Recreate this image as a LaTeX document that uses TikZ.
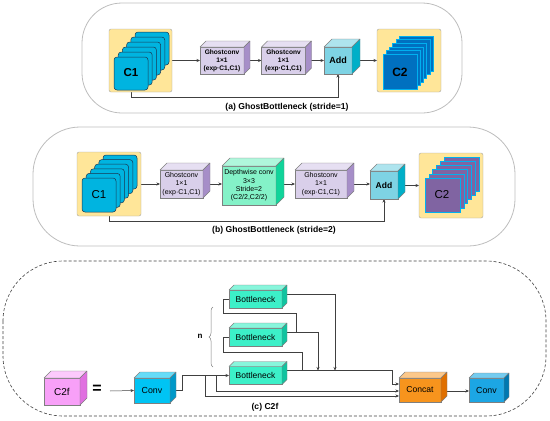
\documentclass[tikz,border=0pt]{standalone}
\usepackage{fontspec}
\setmainfont{Liberation Sans}
\usetikzlibrary{arrows.meta,calc,decorations.pathreplacing}
\pgfdeclarelayer{bg}
\pgfsetlayers{bg,main}

\definecolor{edgeC}{HTML}{7F7F7F}
\definecolor{lineC}{HTML}{404040}
\definecolor{panelC}{HTML}{BDBDBD}
\definecolor{yboxF}{HTML}{FFE699}
\definecolor{yboxD}{HTML}{A6A6A6}
\definecolor{ghostF}{HTML}{D9CFEA}
\definecolor{ghostT}{HTML}{E6DFF2}
\definecolor{ghostS}{HTML}{A68EC8}
\definecolor{addF}{HTML}{7ED3E4}
\definecolor{addT}{HTML}{AEE4EE}
\definecolor{addS}{HTML}{00AFC8}
\definecolor{dwF}{HTML}{84F2C8}
\definecolor{dwT}{HTML}{B0F7DC}
\definecolor{dwS}{HTML}{10D49A}
\definecolor{bnF}{HTML}{3CF0C8}
\definecolor{bnT}{HTML}{88F6DC}
\definecolor{bnS}{HTML}{10C4A0}
\definecolor{cfF}{HTML}{F8A0F8}
\definecolor{cfT}{HTML}{FCCAFC}
\definecolor{cfS}{HTML}{E070E0}
\definecolor{cvF}{HTML}{00C4F4}
\definecolor{cvT}{HTML}{66DCF8}
\definecolor{cvS}{HTML}{0098C8}
\definecolor{ccF}{HTML}{F7941D}
\definecolor{ccT}{HTML}{FCC88A}
\definecolor{ccS}{HTML}{E07000}
\definecolor{cwF}{HTML}{1CA6E4}
\definecolor{cwT}{HTML}{74CCF0}
\definecolor{cwS}{HTML}{0078B0}
\definecolor{sqCyan}{HTML}{00B4E0}
\definecolor{sqCyanD}{HTML}{1A3550}
\definecolor{sqBlue}{HTML}{0070C0}
\definecolor{sqPurple}{HTML}{8064A2}
\definecolor{sqLight}{HTML}{00B0F0}

\tikzset{
  cubefront/.style={draw=edgeC, line width=0.4pt, inner sep=0pt, outer sep=0pt, align=center},
  cubeedge/.style={draw=edgeC, line width=0.4pt, line join=round},
  ybox/.style={draw=yboxD, fill=yboxF, rounded corners=2pt, line width=0.4pt, inner sep=0pt, outer sep=0pt},
  conn/.style={draw=lineC, line width=0.5pt},
  arr/.style={conn, -{Stealth[length=3.5pt,width=3pt]}},
  panel/.style={draw=panelC, line width=0.8pt},
  dpanel/.style={draw=lineC, line width=0.6pt, dash pattern=on 3pt off 2pt},
  lbl/.style={font=\bfseries\fontsize{8.6}{10}\selectfont, inner sep=0pt},
}

% name, center, width, height, depth, colour prefix, font, text
\newcommand\cubebox[8]{%
  \node[cubefront, fill=#6F, minimum width=#3, minimum height=#4, font=#7] (#1) at (#2) {#8};
  \draw[cubeedge, fill=#6T] (#1.north west) -- ++(#5,-#5) -- ($(#1.north east)+(#5,-#5)$) -- (#1.north east) -- cycle;
  \draw[cubeedge, fill=#6S] (#1.north east) -- ++(#5,-#5) -- ($(#1.south east)+(#5,-#5)$) -- (#1.south east) -- cycle;
}
% front-left x, front-top y, w, h, dx, dy, fill, draw, corner radius
\newcommand\sqstack[9]{%
  \foreach \i in {5,4,...,0}{%
    \draw[fill=#7, draw=#8, line width=0.5pt, rounded corners=#9] ({#1+\i*#5},{#2+\i*#6}) rectangle ++(#3,#4);
  }%
}

\begin{document}
\begin{tikzpicture}[x=1pt,y=-1pt]
\useasboundingbox (0,0) rectangle (550,421);

% ---------------- panels ----------------
\begin{pgfonlayer}{bg}
  \draw[panel, rounded corners=40pt] (82,3) rectangle (462,113);
  \draw[panel, rounded corners=47pt] (33,127) rectangle (515,246);
  \draw[dpanel, rounded corners=60pt] (3,261) rectangle (546,416);
\end{pgfonlayer}

% ---------------- (a) ----------------
\node[ybox, minimum width=63, minimum height=63] (c1a) at (140.5,60.5) {};
\sqstack{114}{57}{34}{33}{4.2}{-5}{sqCyan}{sqCyanD}{3pt}
\node[font=\bfseries\fontsize{11.5}{12}\selectfont] (c1atxt) at (131,73) {C1};
\cubebox{g1a}{222,60.5}{44}{27}{6}{ghost}{\bfseries\fontsize{6.6}{8}\selectfont}{Ghostconv\\1×1\\(exp·C1,C1)}
\cubebox{g2a}{283.5,60.5}{44}{27}{6}{ghost}{\bfseries\fontsize{6.6}{8}\selectfont}{Ghostconv\\1×1\\(exp·C1,C1)}
\cubebox{adda}{338,60.5}{28}{27}{8}{add}{\bfseries\fontsize{9}{10}\selectfont}{Add}
\node[ybox, minimum width=64, minimum height=63] (c2a) at (409,60.5) {};
\sqstack{383}{54}{34}{35}{3.2}{-3.6}{sqBlue}{sqLight}{0pt}
\node[font=\bfseries\fontsize{12}{12}\selectfont] (c2atxt) at (400,72) {C2};
\node[lbl] (la) at (287,107) {(a) GhostBottleneck (stride=1)};
\coordinate (sa0) at (131,90);
\coordinate (sa1) at (131,97);
\begin{pgfonlayer}{bg}
  \draw[arr] (c1a.east) -- (g1a.west);
  \draw[arr] (g1a.east) -- (g2a.west);
  \draw[arr] (g2a.east) -- (adda.west);
  \draw[arr] (adda.east) -- (c2a.west);
  \draw[arr] (sa0) -- (sa1) -| (adda.south);
\end{pgfonlayer}

% ---------------- (b) ----------------
\node[ybox, minimum width=64, minimum height=64] (c1b) at (109,184) {};
\sqstack{82}{178}{34}{34}{4.2}{-4.6}{sqCyan}{sqCyanD}{3pt}
\node[font=\fontsize{11.5}{12}\selectfont] (c1btxt) at (99,195) {C1};
\cubebox{g1b}{181.5,184}{43}{28}{7}{ghost}{\fontsize{7}{8.2}\selectfont}{Ghostconv\\1×1\\(exp·C1,C1)}
\cubebox{dwb}{249,185.5}{54}{39}{8}{dw}{\fontsize{7}{8.3}\selectfont}{Depthwise conv\\3×3\\Stride=2\\(C2/2,C2/2)}
\cubebox{g2b}{321,184}{52}{28}{7}{ghost}{\fontsize{7}{8.2}\selectfont}{Ghostconv\\1×1\\(exp·C1,C1)}
\cubebox{addb}{384,185}{28}{28}{7}{add}{\bfseries\fontsize{8.5}{10}\selectfont}{Add}
\node[ybox, minimum width=64, minimum height=65] (c2b) at (451,185.5) {};
\sqstack{425}{178}{35}{34}{3.8}{-4.2}{sqPurple}{sqLight}{0pt}
\node[font=\fontsize{11.5}{12}\selectfont] (c2btxt) at (442,195) {C2};
\node[lbl] (lb) at (274,230) {(b) GhostBottleneck (stride=2)};
\coordinate (sb0) at (109,212);
\coordinate (sb1) at (109,221);
\begin{pgfonlayer}{bg}
  \draw[arr] (c1b.east) -- (g1b.west);
  \draw[arr] (g1b.east) -- (dwb.west |- g1b.west);
  \draw[arr] (dwb.east |- g2b.west) -- (g2b.west);
  \draw[arr] (g2b.east) -- (addb.west |- g2b.east);
  \draw[arr] (addb.east |- c2b.west) -- (c2b.west);
  \draw[arr] (sb0) -- (sb1) -| (addb.south);
\end{pgfonlayer}

% ---------------- (c) ----------------
\cubebox{c2f}{62,391.5}{36}{27}{7}{cf}{\fontsize{10}{12}\selectfont}{C2f}
\node[font=\bfseries\fontsize{16}{16}\selectfont, inner sep=0pt] (eq) at (97,389) {=};
\cubebox{conv1}{152,390.5}{36}{25}{6}{cv}{\fontsize{8.8}{10}\selectfont}{Conv}
\cubebox{bn1}{255.5,299}{53}{18}{5}{bn}{\fontsize{8.5}{10}\selectfont}{Bottleneck}
\cubebox{bn2}{255.5,337}{53}{18}{5}{bn}{\fontsize{8.5}{10}\selectfont}{Bottleneck}
\cubebox{bn3}{255.5,375.5}{53}{18}{5}{bn}{\fontsize{8.5}{10}\selectfont}{Bottleneck}
\cubebox{concat}{420,390}{42}{24}{6}{cc}{\fontsize{8.6}{10}\selectfont}{Concat}
\cubebox{conv2}{486.5,390}{35}{24}{5}{cw}{\fontsize{8.8}{10}\selectfont}{Conv}
\draw[decorate, decoration={brace, amplitude=4pt}, draw=gray, line width=0.5pt] (213,367) -- (213,307);
\node[font=\bfseries\fontsize{8}{10}\selectfont, inner sep=0pt] (nlbl) at (200,336) {n};
\node[lbl] (lc) at (265,407) {(c) C2f};

\coordinate (ain) at (110,391);
\coordinate (j1) at (182,375.5);
\coordinate (j2) at (205,375.5);
\coordinate (j3) at (216,375.5);
\coordinate (m1) at (335,370.5);
\coordinate (m2) at (318,370.5);
\coordinate (t3) at (302,370.5);
\coordinate (l3) at (223,352);
\coordinate (t2) at (296,332);
\coordinate (l2) at (223,313);
\begin{pgfonlayer}{bg}
  \draw[arr] (ain) -- (conv1.west);
  \draw[arr] (conv1.east) -| (j1) -- (bn3.west);
  \draw[arr] (j2) |- ([yshift=-6pt]concat.west);
  \draw[arr] (j3) |- ([yshift=-1pt]concat.west);
  \draw[arr] ([yshift=5pt]bn3.east) -| ([xshift=-7pt,yshift=6pt]concat.west) -- ([yshift=6pt]concat.west);
  \draw[arr] ([yshift=5pt]bn2.east) -| (m2);
  \draw[arr] ([yshift=5pt]bn1.east) -| (m1);
  \draw[conn] (t3) |- (l3) |- (bn2.west);
  \draw[conn] (t2) |- (l2) |- (bn1.west);
  \draw[arr] ([yshift=-1pt]concat.east) -- ([yshift=-1pt]conv2.west);
\end{pgfonlayer}
\end{tikzpicture}
\end{document}
